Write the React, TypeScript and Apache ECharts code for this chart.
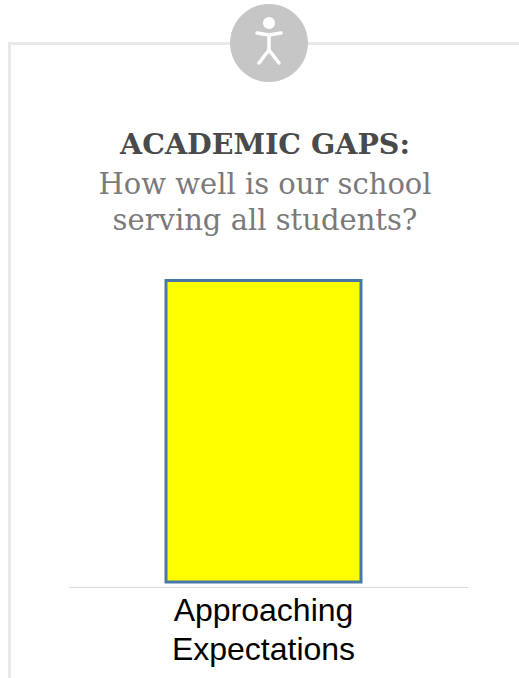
import React, { useEffect, useRef } from "react";
import * as echarts from "echarts";

const categories = ["Approaching\nExpectations"];
const values = [100];
const titleText = "ACADEMIC GAPS:";
const subtitleText = "How well is our school\nserving all students?";

export default function App() {
  const ref = useRef<HTMLDivElement>(null);
  useEffect(() => {
    document.body.style.margin = "0";
    const chart = echarts.init(ref.current!, null, { renderer: "svg" });
    chart.setOption({
      animation: false,
      backgroundColor: "#ffffff",
      title: {
        text: titleText,
        subtext: subtitleText,
        left: 260,
        top: 124,
        textAlign: "center",
        itemGap: 8,
        textStyle: { fontFamily: "DejaVu Serif", fontWeight: "bold", fontSize: 28.5, color: "#4a4a4a" },
        subtextStyle: { fontFamily: "DejaVu Serif", fontWeight: "normal", fontSize: 29, lineHeight: 36, color: "#7a7a7a" },
      },
      grid: { left: 59, right: 51, top: 279, bottom: 90.5 },
      xAxis: {
        type: "category",
        data: categories,
        axisLine: { show: false },
        axisTick: { show: false },
        axisLabel: {
          interval: 0,
          margin: 3,
          fontFamily: "Liberation Sans",
          fontSize: 32,
          lineHeight: 39,
          color: "#000000",
        },
      },
      yAxis: { type: "value", min: -1.3, max: 100, show: false, splitLine: { show: false } },
      series: [
        {
          type: "bar",
          data: values,
          barWidth: 198,
          itemStyle: { color: "#ffff00", borderColor: "#4878a8", borderWidth: 3 },
        },
      ],
      graphic: [
        {
          type: "polyline",
          shape: { points: [[9.5, 678], [9.5, 43.5], [519, 43.5]] },
          style: { stroke: "#e8e8e8", lineWidth: 3, fill: "none" },
          z: 1,
        },
        { type: "line", shape: { x1: 69, y1: 587.5, x2: 468, y2: 587.5 }, style: { stroke: "#d9d9d9", lineWidth: 1 }, z: 1 },
        { type: "circle", shape: { cx: 269, cy: 43, r: 39 }, style: { fill: "#c6c6c6" }, z: 2 },
        { type: "circle", shape: { cx: 269, cy: 23, r: 6 }, style: { fill: "#ffffff" }, z: 3 },
        {
          type: "polyline",
          shape: { points: [[257, 33], [269, 35], [281, 33]] },
          style: { stroke: "#ffffff", lineWidth: 3.5, lineCap: "round", lineJoin: "round", fill: "none" },
          z: 3,
        },
        {
          type: "polyline",
          shape: { points: [[259, 63], [269, 50], [279, 63]] },
          style: { stroke: "#ffffff", lineWidth: 3.5, lineCap: "round", lineJoin: "round", fill: "none" },
          z: 3,
        },
        { type: "line", shape: { x1: 269, y1: 35, x2: 269, y2: 50 }, style: { stroke: "#ffffff", lineWidth: 3.5 }, z: 3 },
      ],
    });
    return () => chart.dispose();
  }, []);
  return <div ref={ref} style={{ width: 519, height: 678 }} />;
}
